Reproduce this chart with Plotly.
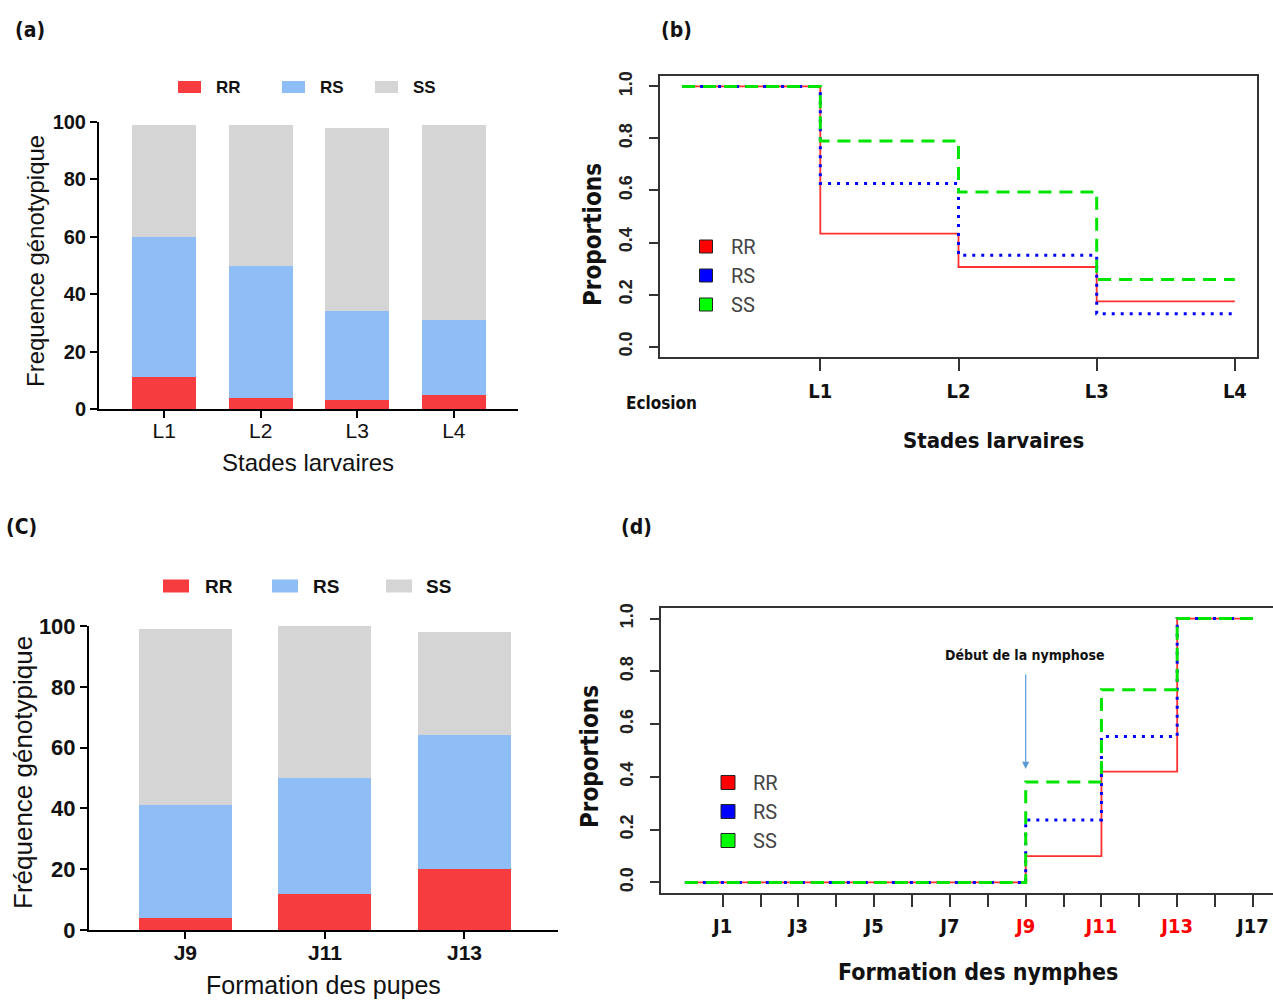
import plotly.graph_objects as go

W, H = 1273, 1001


def px(x):
    return x / W


def py(y):
    return 1 - y / H


# ---- (a) genotype frequency (%) by larval stage ----
stades = ["L1", "L2", "L3", "L4"]
rr_a = [11, 4, 3, 5]
rs_a = [49, 46, 31, 26]
ss_a = [39, 49, 64, 68]

# ---- (b) proportion remaining at each larval stage ----
stades_b = [0, 1, 2, 3]          # 0 = Eclosion
stade_fin_b = 4
rr_b = [1.0, 0.434, 0.306, 0.174]
rs_b = [1.0, 0.627, 0.351, 0.126]
ss_b = [1.0, 0.790, 0.594, 0.258]
ticks_b = [1, 2, 3, 4]
ticktext_b = ["L1", "L2", "L3", "L4"]

# ---- (c) genotype frequency (%) at pupation day ----
jours_c = ["J9", "J11", "J13"]
rr_c = [4, 12, 20]
rs_c = [37, 38, 44]
ss_c = [58, 50, 34]

# ---- (d) cumulative proportion of nymphs by day ----
jours_d = [0, 9, 11, 13]
jour_fin_d = 15
rr_d = [0.0, 0.100, 0.420, 1.0]
rs_d = [0.0, 0.237, 0.553, 1.0]
ss_d = [0.0, 0.381, 0.730, 1.0]
ticks_d = list(range(1, 16))
ticktext_d = ["J1", "", "J3", "", "J5", "", "J7", "",
              "<span style='color:#ff0000'>J9</span>", "",
              "<span style='color:#ff0000'>J11</span>", "",
              "<span style='color:#ff0000'>J13</span>", "", "J17"]

genotypes = ["RR", "RS", "SS"]
bar_colors = {"RR": "#F73C3F", "RS": "#8FBDF5", "SS": "#D5D5D5"}
line_styles = {
    "RR": dict(color="#FF3030", width=1.8, dash="solid"),
    "RS": dict(color="#0000FF", width=3, dash="3px,6px"),
    "SS": dict(color="#00E600", width=3, dash="13px,8px"),
}
key_colors = {"RR": "#FF0000", "RS": "#0000FF", "SS": "#00FF00"}

ARIAL = "Liberation Sans, Arial, sans-serif"
NARROW = "Liberation Sans Narrow, DejaVu Sans Condensed, Liberation Sans, sans-serif"
THIN = "Roboto, Liberation Sans Narrow, sans-serif"

fig = go.Figure()

# stacked bars (a)
for g, vals in zip(genotypes, [rr_a, rs_a, ss_a]):
    fig.add_trace(go.Bar(x=stades, y=vals, name=g, marker_color=bar_colors[g],
                         marker_line_width=0, width=0.665, showlegend=False,
                         xaxis="x", yaxis="y"))

# stacked bars (c)
for g, vals in zip(genotypes, [rr_c, rs_c, ss_c]):
    fig.add_trace(go.Bar(x=jours_c, y=vals, name=g, marker_color=bar_colors[g],
                         marker_line_width=0, width=0.665, showlegend=False,
                         xaxis="x3", yaxis="y3"))

# step curves (b)
for g, vals in zip(genotypes, [rr_b, rs_b, ss_b]):
    fig.add_trace(go.Scatter(x=stades_b + [stade_fin_b], y=vals + [vals[-1]],
                             mode="lines", line=dict(shape="hv", **line_styles[g]),
                             showlegend=False, xaxis="x2", yaxis="y2"))
for g in genotypes:
    fig.add_trace(go.Scatter(x=[None], y=[None], mode="markers", name=g,
                             marker=dict(symbol="square", size=13, color=key_colors[g],
                                         line=dict(color="#222", width=1)),
                             xaxis="x2", yaxis="y2", legend="legend2"))

# step curves (d)
for g, vals in zip(genotypes, [rr_d, rs_d, ss_d]):
    fig.add_trace(go.Scatter(x=jours_d + [jour_fin_d], y=vals + [vals[-1]],
                             mode="lines", line=dict(shape="hv", **line_styles[g]),
                             showlegend=False, xaxis="x4", yaxis="y4"))
for g in genotypes:
    fig.add_trace(go.Scatter(x=[None], y=[None], mode="markers", name=g,
                             marker=dict(symbol="square", size=14, color=key_colors[g],
                                         line=dict(color="#222", width=1)),
                             xaxis="x4", yaxis="y4", legend="legend4"))

bar_x = dict(showline=True, linewidth=2, linecolor="black", ticks="outside",
             ticklen=7, tickwidth=2, tickcolor="black", showgrid=False,
             zeroline=False, type="category", automargin=False)
bar_y = dict(showline=True, linewidth=2, linecolor="black", ticks="outside",
             ticklen=7, tickwidth=2, tickcolor="black", showgrid=False,
             zeroline=False, range=[0, 100], tickvals=[0, 20, 40, 60, 80, 100],
             automargin=False)

box = dict(showline=True, mirror=True, linewidth=2, linecolor="#333",
           ticks="outside", tickcolor="#333", tickwidth=1.5, showgrid=False,
           zeroline=False, automargin=False)

fig.update_layout(
    width=W, height=H,
    margin=dict(l=0, r=0, t=0, b=0, autoexpand=False),
    paper_bgcolor="white", plot_bgcolor="white",
    barmode="stack",
    showlegend=True,
    xaxis=dict(**bar_x, domain=[px(99), px(518)], range=[-0.675, 3.665],
               ticklabelstandoff=-5,
               tickfont=dict(family=ARIAL, size=21, color="#111"), anchor="y"),
    yaxis=dict(**bar_y, domain=[py(409), py(122)],
               tickfont=dict(family=ARIAL, size=20, color="#111", weight="bold"),
               anchor="x"),
    xaxis3=dict(**bar_x, domain=[px(89), px(558)], range=[-0.69, 2.67],
                ticklabelstandoff=-4,
                tickfont=dict(family=ARIAL, size=21, color="#111", weight="bold"),
                anchor="y3"),
    yaxis3=dict(**bar_y, domain=[py(930), py(626)],
                tickfont=dict(family=ARIAL, size=22, color="#111", weight="bold"),
                anchor="x3"),
    xaxis2=dict(**box, domain=[px(660), px(1257)], range=[-0.16, 4.16],
                tickvals=ticks_b, ticktext=ticktext_b, ticklen=12,
                ticklabelstandoff=3,
                tickfont=dict(family=NARROW, size=20, color="#111", weight="bold"),
                anchor="y2"),
    yaxis2=dict(**box, domain=[py(357), py(76)], range=[-0.04, 1.04],
                tickvals=[0, 0.2, 0.4, 0.6, 0.8, 1.0], tickformat=".1f",
                ticklen=9, tickangle=-90, ticklabelstandoff=10,
                tickfont=dict(family=ARIAL, size=18, color="#222", weight="bold"),
                anchor="x2"),
    xaxis4=dict(**box, domain=[px(661), 1.0], range=[-0.63, 15.53],
                tickvals=ticks_d, ticktext=ticktext_d, ticklen=12,
                ticklabelstandoff=2,
                tickfont=dict(family=NARROW, size=20, color="#111", weight="bold"),
                anchor="y4"),
    yaxis4=dict(**box, domain=[py(893), py(608)], range=[-0.04, 1.04],
                tickvals=[0, 0.2, 0.4, 0.6, 0.8, 1.0], tickformat=".1f",
                ticklen=9, tickangle=-90, ticklabelstandoff=10,
                tickfont=dict(family=ARIAL, size=18, color="#222", weight="bold"),
                anchor="x4"),
    legend2=dict(x=px(681), y=py(227), xanchor="left", yanchor="top",
                 itemwidth=40, font=dict(family=THIN, size=20, color="#444"),
                 bgcolor="rgba(0,0,0,0)"),
    legend4=dict(x=px(703), y=py(763), xanchor="left", yanchor="top",
                 itemwidth=40, font=dict(family=THIN, size=20, color="#444"),
                 bgcolor="rgba(0,0,0,0)"),
)

annotations = [
    # panel letters
    dict(text="<b>(a)</b>", x=px(30), y=py(30), font=dict(family=NARROW, size=21)),
    dict(text="<b>(b)</b>", x=px(676), y=py(30), font=dict(family=NARROW, size=21)),
    dict(text="<b>(C)</b>", x=px(22), y=py(527), font=dict(family=NARROW, size=21)),
    dict(text="<b>(d)</b>", x=px(636), y=py(527), font=dict(family=NARROW, size=21)),
    # axis titles (a)
    dict(text="Frequence génotypique", x=px(36), y=py(261), textangle=-90,
         font=dict(family=ARIAL, size=24)),
    dict(text="Stades larvaires", x=px(308), y=py(462), font=dict(family=ARIAL, size=24)),
    # axis titles (c)
    dict(text="Fréquence génotypique", x=px(23), y=py(773), textangle=-90,
         font=dict(family=ARIAL, size=26)),
    dict(text="Formation des pupes", x=px(323), y=py(985), font=dict(family=ARIAL, size=25)),
    # axis titles (b)
    dict(text="<b>Proportions</b>", x=px(593), y=py(235), textangle=-90,
         font=dict(family=NARROW, size=24)),
    dict(text="<b>Stades larvaires</b>", x=px(993), y=py(440), font=dict(family=NARROW, size=22)),
    dict(text="<b>Eclosion</b>", x=px(661), y=py(403), font=dict(family=NARROW, size=17)),
    # axis titles (d)
    dict(text="<b>Proportions</b>", x=px(590), y=py(757), textangle=-90,
         font=dict(family=NARROW, size=24)),
    dict(text="<b>Formation des nymphes</b>", x=px(978), y=py(972),
         font=dict(family=NARROW, size=23)),
    dict(text="<b>Début de la nymphose</b>", x=px(1025), y=py(655),
         font=dict(family=NARROW, size=14)),
]

# horizontal keys above the bar panels: (swatch left, text left) in pixels
key_a = dict(y=87, h=12, w=23, size=17, items=[(178, 214), (282, 318), (375, 411)])
key_c = dict(y=586, h=13, w=26, size=19, items=[(163, 203), (272, 311), (386, 424)])
shapes = []
for key in (key_a, key_c):
    for g, (sx, tx) in zip(genotypes, key["items"]):
        shapes.append(dict(type="rect", xref="paper", yref="paper",
                           x0=px(sx), x1=px(sx + key["w"]),
                           y0=py(key["y"] + key["h"] / 2), y1=py(key["y"] - key["h"] / 2),
                           fillcolor=bar_colors[g], line=dict(width=0)))
        annotations.append(dict(text=f"<b>{g}</b>", x=px(tx), y=py(key["y"]),
                                xanchor="left",
                                font=dict(family=ARIAL, size=key["size"])))

for a in annotations:
    a.setdefault("xanchor", "center")
    a.update(xref="paper", yref="paper", showarrow=False, yanchor="middle")
    a["font"].setdefault("color", "#111")
fig.update_layout(annotations=annotations, shapes=shapes)

# arrow marking the onset of pupation
fig.add_annotation(x=9, y=0.43, xref="x4", yref="y4", text="", showarrow=True,
                   ax=0, ay=-96, arrowhead=2, arrowsize=1.2, arrowwidth=1.2,
                   arrowcolor="#5B9BD5")

fig.write_html("out.html")
